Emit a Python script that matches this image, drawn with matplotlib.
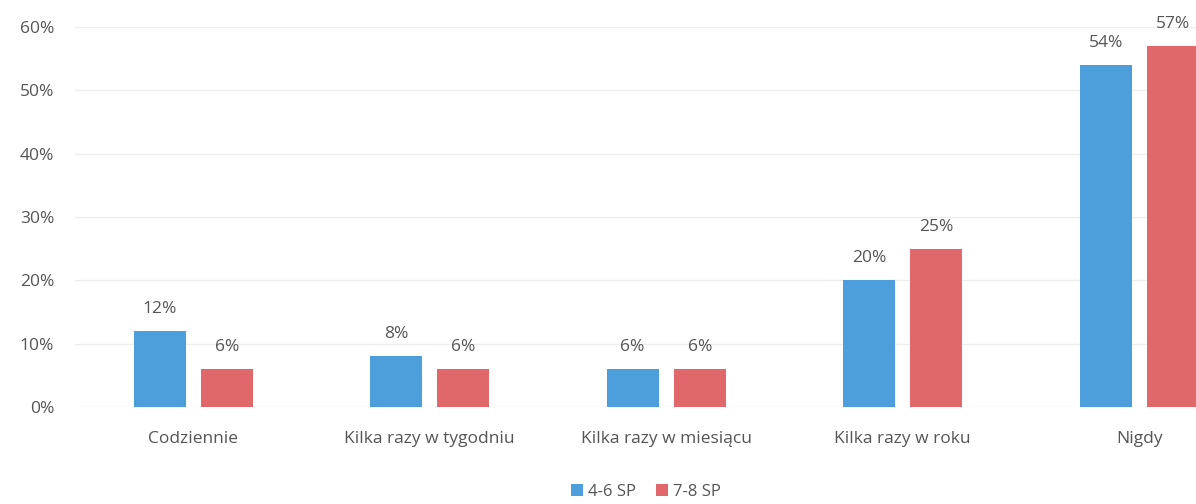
import matplotlib
matplotlib.use("Agg")
import matplotlib.pyplot as plt
import numpy as np
from matplotlib.ticker import FuncFormatter

categories = ["Codziennie", "Kilka razy w tygodniu", "Kilka razy w miesiącu",
              "Kilka razy w roku", "Nigdy"]
series_names = ["4-6 SP", "7-8 SP"]
values_46 = [12, 8, 6, 20, 54]
values_78 = [6, 6, 6, 25, 57]
y_ticks = [0, 10, 20, 30, 40, 50, 60]

colors = ["#4C9FDA", "#E0676A"]
text_color = "#555555"
plt.rcParams["font.family"] = ["Open Sans", "DejaVu Sans"]

fig = plt.figure(figsize=(11.96, 5.04), dpi=100)
ax = fig.add_axes([75 / 1196, (504 - 407) / 504, 1 - 75 / 1196, 380 / 504])

x = np.arange(len(categories))
width = 0.22
offset = 0.142
bars_a = ax.bar(x - offset, values_46, width, color=colors[0], label=series_names[0])
bars_b = ax.bar(x + offset, values_78, width, color=colors[1], label=series_names[1])

for bars in (bars_a, bars_b):
    ax.bar_label(bars, labels=[f"{v}%" for v in bars.datavalues], padding=10,
                 fontsize=12.5, color=text_color)

ax.set_ylim(0, 60)
ax.set_xlim(-0.5, 4.24)
ax.set_yticks(y_ticks)
ax.yaxis.set_major_formatter(FuncFormatter(lambda v, _: f"{v:.0f}%"))
ax.set_xticks(x)
ax.set_xticklabels(categories)
ax.tick_params(axis="both", length=0, labelsize=12.5, labelcolor=text_color)
ax.tick_params(axis="y", pad=15)
ax.tick_params(axis="x", pad=17)
ax.grid(axis="y", color="#eeeeee", linewidth=1)
ax.set_axisbelow(True)
for spine in ax.spines.values():
    spine.set_visible(False)

fig.legend(loc="center", bbox_to_anchor=(646 / 1196, 1 - 492 / 504), ncol=2,
           frameon=False, fontsize=12, handlelength=0.7, handleheight=0.7,
           handletextpad=0.3, columnspacing=1.2, labelcolor=text_color)

fig.savefig("out.png", dpi=100)
